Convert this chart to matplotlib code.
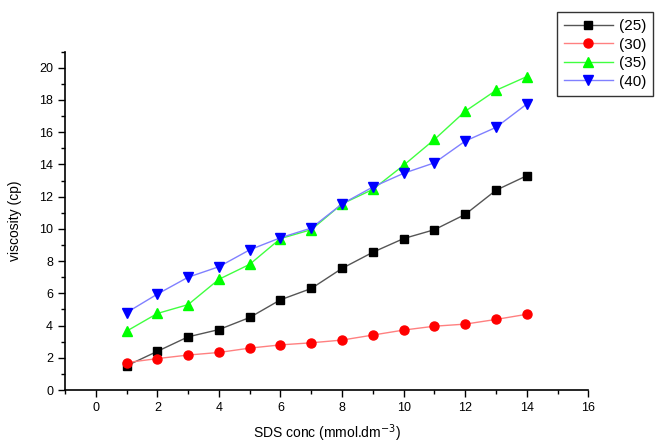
import numpy as np
import matplotlib
matplotlib.use('Agg')
import matplotlib.pyplot as plt
from matplotlib.ticker import MultipleLocator

plt.rcParams.update({'font.family': ['Liberation Sans', 'DejaVu Sans'], 'font.size': 9})

sds_conc = [1, 2, 3, 4, 5, 6, 7, 8, 9, 10, 11, 12, 13, 14]
visc_25 = [1.5, 2.4, 3.3, 3.75, 4.5, 5.6, 6.3, 7.55, 8.55, 9.4, 9.95, 10.9, 12.4, 13.3]
visc_30 = [1.7, 1.95, 2.17, 2.33, 2.6, 2.8, 2.93, 3.1, 3.41, 3.72, 3.96, 4.09, 4.38, 4.7]
visc_35 = [3.65, 4.75, 5.3, 6.87, 7.8, 9.4, 9.95, 11.55, 12.45, 13.95, 15.55, 17.3, 18.6, 19.45]
visc_40 = [4.8, 5.95, 7.0, 7.65, 8.7, 9.45, 10.05, 11.55, 12.6, 13.45, 14.1, 15.45, 16.3, 17.75]
labels = ['(25)', '(30)', '(35)', '(40)']

fig = plt.figure(figsize=(6.56, 4.47), dpi=100)
ax = fig.add_axes([0.099, 0.1275, 0.798, 0.757])

styles = [
    (visc_25, 's', 'black', '#555555', 5.5),
    (visc_30, 'o', 'red', '#ff8080', 6.5),
    (visc_35, '^', '#00ff00', '#40ff40', 7.5),
    (visc_40, 'v', 'blue', '#8080ff', 7.5),
]
for (vals, mk, mc, lc, ms), lab in zip(styles, labels):
    ax.plot(sds_conc, vals, color=lc, linewidth=1.0, marker=mk, markersize=ms,
            markerfacecolor=mc, markeredgecolor=mc, label=lab)

ax.set_xlim(-1, 16)
ax.set_ylim(0, 21)
ax.xaxis.set_major_locator(MultipleLocator(2))
ax.xaxis.set_minor_locator(MultipleLocator(1))
ax.yaxis.set_major_locator(MultipleLocator(2))
ax.yaxis.set_minor_locator(MultipleLocator(1))
ax.set_xticks(np.arange(0, 17, 2))
ax.tick_params(which='major', direction='out', length=5, width=1)
ax.tick_params(which='minor', direction='out', length=3, width=1)
for s in ['top', 'right']:
    ax.spines[s].set_visible(False)
for s in ['left', 'bottom']:
    ax.spines[s].set_linewidth(1.2)

ax.set_xlabel('SDS conc (mmol.dm$^{-3}$)', fontsize=10, labelpad=6)
ax.set_ylabel('viscosity (cp)', fontsize=10, labelpad=12)

leg = fig.legend(loc='upper left', bbox_to_anchor=(0.849, 0.973), fontsize=11,
                 frameon=True, fancybox=False, edgecolor='black', borderaxespad=0,
                 handlelength=3.2, labelspacing=0.3, borderpad=0.45, handletextpad=0.4)
leg.get_frame().set_linewidth(1.0)

fig.savefig('out.png', dpi=100)
